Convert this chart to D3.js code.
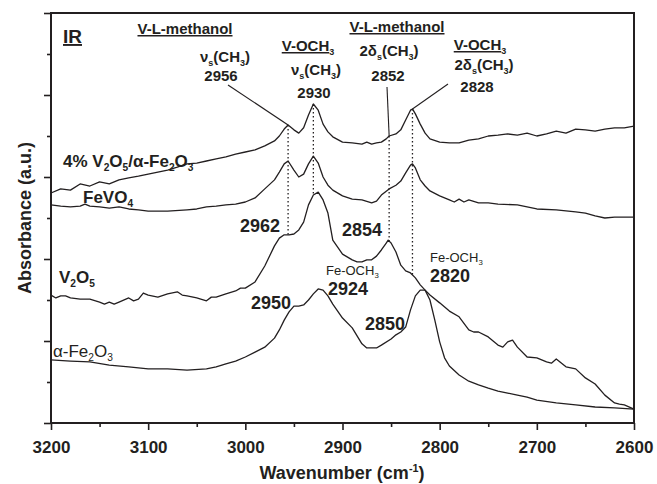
<!DOCTYPE html>
<html>
<head>
<meta charset="utf-8">
<script src="https://cdn.jsdelivr.net/npm/d3@7/dist/d3.min.js"></script>
<style>
body { margin: 0; background: #fff; }
svg text { font-family: "Liberation Sans", Arial, Helvetica, sans-serif; fill: #231f20; }
</style>
</head>
<body>
<svg id="chart" width="657" height="484"></svg>
<script>
// spectra: wavenumber (cm-1) / absorbance (a.u.)
const mixedWn  = [3200,3190,3180,3170,3160,3150,3140,3130,3120,3110,3100,3090,3080,3070,3060,3050,3040,3030,3020,3010,3000,2990,2980,2970,2965,2960,2956,2950,2945,2940,2935,2930,2925,2920,2915,2910,2900,2890,2880,2875,2870,2865,2860,2855,2852,2845,2840,2835,2830,2828,2825,2820,2815,2810,2800,2790,2780,2770,2760,2750,2740,2730,2720,2710,2700,2690,2680,2670,2660,2650,2640,2630,2620,2610,2600];
const mixedAbs = [5.61,5.71,5.68,5.83,5.78,5.88,5.83,5.93,5.98,6.02,6.07,6.12,6.17,6.24,6.32,6.34,6.39,6.44,6.49,6.56,6.61,6.66,6.76,6.88,7.00,7.17,7.27,7.15,7.07,7.20,7.51,7.78,7.63,7.29,7.10,6.98,6.85,6.83,6.80,6.85,6.80,6.83,6.85,6.93,7.00,7.05,7.15,7.39,7.63,7.66,7.54,7.29,7.07,6.93,6.85,6.83,6.83,6.90,6.93,7.00,7.02,7.05,7.02,7.07,7.00,7.05,7.12,7.07,7.17,7.15,7.12,7.17,7.20,7.20,7.24];

const fevo4Wn  = [3200,3190,3180,3170,3165,3160,3150,3140,3130,3120,3110,3100,3080,3060,3050,3040,3030,3020,3010,3000,2990,2980,2970,2965,2960,2956,2950,2945,2940,2935,2930,2925,2920,2915,2910,2900,2890,2880,2870,2865,2860,2852,2845,2840,2835,2830,2828,2825,2820,2815,2810,2800,2790,2785,2780,2775,2770,2760,2750,2740,2720,2700,2680,2660,2650,2640,2630,2620,2600];
const fevo4Abs = [5.32,5.29,5.27,5.29,5.34,5.29,5.27,5.24,5.27,5.22,5.20,5.17,5.17,5.20,5.22,5.27,5.29,5.32,5.34,5.39,5.49,5.71,5.93,6.12,6.32,6.39,6.17,6.00,6.07,6.32,6.51,6.34,6.00,5.80,5.68,5.54,5.46,5.44,5.37,5.41,5.56,5.71,5.80,5.90,6.10,6.29,6.32,6.22,5.93,5.78,5.66,5.54,5.44,5.39,5.46,5.39,5.44,5.37,5.37,5.34,5.32,5.22,5.20,5.15,5.12,5.05,5.00,5.02,5.02];

const v2o5Wn  = [3200,3195,3190,3185,3180,3170,3160,3150,3145,3140,3135,3130,3120,3115,3110,3105,3100,3090,3080,3070,3065,3060,3050,3040,3035,3030,3020,3010,3005,3000,2990,2980,2970,2965,2960,2955,2950,2945,2940,2935,2930,2925,2920,2915,2910,2905,2900,2890,2885,2880,2875,2870,2865,2860,2855,2853,2850,2845,2840,2835,2830,2825,2820,2815,2810,2800,2790,2780,2770,2765,2760,2750,2740,2735,2730,2725,2720,2710,2700,2690,2685,2680,2670,2660,2650,2640,2630,2620,2615,2610,2600];
const v2o5Abs = [3.12,3.05,3.10,3.10,3.05,3.02,3.02,2.95,2.90,2.95,2.90,2.95,3.05,2.98,3.02,3.17,3.12,3.07,3.15,3.20,3.12,3.10,3.05,2.98,3.07,3.07,3.15,3.22,3.29,3.29,3.44,3.83,4.32,4.51,4.59,4.59,4.61,4.71,4.90,5.32,5.56,5.63,5.44,5.12,4.46,4.29,4.12,3.98,3.93,3.93,3.98,3.98,4.07,4.22,4.39,4.46,4.39,4.17,3.85,3.71,3.66,3.54,3.37,3.24,3.12,2.93,2.73,2.59,2.27,2.22,2.22,2.10,1.90,1.85,1.98,2.02,1.85,1.61,1.59,1.49,1.46,1.56,1.37,1.32,1.10,0.95,0.68,0.49,0.46,0.44,0.34];

const fe2o3Wn  = [3200,3180,3160,3140,3120,3100,3080,3060,3040,3030,3020,3010,3000,2990,2980,2970,2965,2960,2955,2950,2945,2940,2935,2930,2925,2920,2915,2910,2900,2890,2880,2875,2870,2865,2860,2850,2845,2840,2835,2830,2825,2820,2815,2810,2805,2800,2795,2790,2780,2770,2760,2750,2740,2730,2720,2710,2700,2680,2660,2640,2620,2600];
const fe2o3Abs = [1.54,1.51,1.49,1.41,1.37,1.32,1.32,1.29,1.32,1.37,1.44,1.51,1.61,1.73,1.85,2.07,2.27,2.51,2.71,2.85,2.85,2.88,3.00,3.15,3.27,3.24,3.10,2.90,2.56,2.32,1.93,1.83,1.83,1.83,1.90,2.05,2.15,2.22,2.34,2.76,3.10,3.24,3.24,3.00,2.51,1.98,1.59,1.39,1.17,1.02,0.93,0.85,0.78,0.73,0.68,0.63,0.56,0.49,0.44,0.39,0.37,0.34];

// assigned bands (dotted markers)
const bandWn = [2956, 2930, 2852, 2828];

const xMajorTicks = [3200, 3100, 3000, 2900, 2800, 2700, 2600];
const xMinorTicks = [3150, 3050, 2950, 2850, 2750, 2650];
const yMajorTicks = [0, 2, 4, 6, 8, 10];
const yMinorTicks = [1, 3, 5, 7, 9];

const width = 657, height = 484;
const margin = {top: 13, right: 23, bottom: 61, left: 51};

const svg = d3.select("#chart");

const x = d3.scaleLinear().domain([3200, 2600]).range([margin.left, width - margin.right]);
const y = d3.scaleLinear().domain([0, 10]).range([height - margin.bottom, margin.top]);

const ink = "#231f20";

function absAt(wns, abs, w) {
	for (let i = 0; i < wns.length - 1; i++) {
		if (w <= wns[i] && w >= wns[i + 1]) {
			const t = (wns[i] - w) / (wns[i] - wns[i + 1]);
			return abs[i] + t * (abs[i + 1] - abs[i]);
		}
	}
	return abs[abs.length - 1];
}

// axes
const gx = svg.append("g").attr("transform", `translate(0,${y(0)})`);
gx.call(d3.axisBottom(x).tickValues(xMajorTicks).tickSize(7).tickPadding(11).tickFormat(d3.format("d")));
gx.append("g").call(d3.axisBottom(x).tickValues(xMinorTicks).tickSize(4).tickFormat(""));

const gy = svg.append("g").attr("transform", `translate(${x(3200)},0)`);
gy.call(d3.axisLeft(y).tickValues(yMajorTicks).tickSize(7).tickFormat(""));
gy.append("g").call(d3.axisLeft(y).tickValues(yMinorTicks).tickSize(4).tickFormat(""));

svg.selectAll(".domain").remove();
svg.selectAll(".tick line").attr("stroke", ink).attr("stroke-width", 1.6);
gx.selectAll(".tick text")
	.attr("fill", ink)
	.style("font-size", "17px")
	.style("font-weight", "bold");

// frame
svg.append("rect")
	.attr("x", x(3200)).attr("y", y(10))
	.attr("width", x(2600) - x(3200)).attr("height", y(0) - y(10))
	.attr("fill", "none").attr("stroke", ink).attr("stroke-width", 2);

// spectra
const line = d3.line().x(d => x(d[0])).y(d => y(d[1]));
const series = [
	[mixedWn, mixedAbs],
	[fevo4Wn, fevo4Abs],
	[v2o5Wn, v2o5Abs],
	[fe2o3Wn, fe2o3Abs]
];
svg.append("g").selectAll("path")
	.data(series)
	.join("path")
	.attr("d", s => line(d3.zip(s[0], s[1])))
	.attr("fill", "none")
	.attr("stroke", ink)
	.attr("stroke-width", 1.3)
	.attr("stroke-linejoin", "round");

// dotted band markers from the top spectrum down to V2O5
svg.append("g").selectAll("line")
	.data(bandWn)
	.join("line")
	.attr("x1", d => x(d)).attr("x2", d => x(d))
	.attr("y1", d => y(absAt(mixedWn, mixedAbs, d)))
	.attr("y2", d => y(absAt(v2o5Wn, v2o5Abs, d)))
	.attr("stroke", ink)
	.attr("stroke-width", 1.3)
	.attr("stroke-dasharray", "1.5,2.5");

// leader lines from labels to the bands
const leaders = [
	{from: [228, 85], band: 2956},
	{from: [387, 87], band: 2852},
	{from: [448, 84], band: 2828}
];
svg.append("g").selectAll("line")
	.data(leaders)
	.join("line")
	.attr("x1", d => d.from[0]).attr("y1", d => d.from[1])
	.attr("x2", d => x(d.band)).attr("y2", d => y(absAt(mixedWn, mixedAbs, d.band)))
	.attr("stroke", ink)
	.attr("stroke-width", 1.1);

// text helper: parts are [string, "sub"|"sup"] or plain strings
function label(px, py, parts, opts) {
	const t = svg.append("text")
		.attr("x", px).attr("y", py)
		.attr("text-anchor", opts.anchor || "start")
		.style("font-size", opts.size + "px")
		.style("font-weight", opts.weight || "bold");
	let shift = 0;
	parts.forEach(p => {
		const [str, kind] = Array.isArray(p) ? p : [p, null];
		let target = 0;
		if (kind === "sub") target = opts.size * 0.25;
		if (kind === "sup") target = -opts.size * 0.4;
		const ts = t.append("tspan").text(str).attr("dy", target - shift);
		shift = target;
		if (kind === "sub" || kind === "sup") ts.style("font-size", (opts.size * 0.6) + "px");
		if (opts.underline && kind !== "sub") ts.style("text-decoration", "underline");
	});
	return t;
}

// band assignments
label(63, 43, ["IR"], {size: 19, underline: true});
label(185, 34, ["V-L-methanol"], {size: 15, anchor: "middle", underline: true});
label(225, 62, ["ν", ["s", "sub"], "(CH", ["3", "sub"], ")"], {size: 15, anchor: "middle"});
label(221, 81, ["2956"], {size: 15, anchor: "middle"});
label(308, 51, ["V-OCH", ["3", "sub"]], {size: 15, anchor: "middle", underline: true});
label(316, 75, ["ν", ["s", "sub"], "(CH", ["3", "sub"], ")"], {size: 15, anchor: "middle"});
label(314, 98, ["2930"], {size: 15, anchor: "middle"});
label(397, 32, ["V-L-methanol"], {size: 15, anchor: "middle", underline: true});
label(389, 56, ["2δ", ["s", "sub"], "(CH", ["3", "sub"], ")"], {size: 15, anchor: "middle"});
label(388, 81, ["2852"], {size: 15, anchor: "middle"});
label(480, 50, ["V-OCH", ["3", "sub"]], {size: 15, anchor: "middle", underline: true});
label(484, 70, ["2δ", ["s", "sub"], "(CH", ["3", "sub"], ")"], {size: 15, anchor: "middle"});
label(477, 92, ["2828"], {size: 15, anchor: "middle"});

// peak positions
label(240, 232, ["2962"], {size: 18});
label(342, 236, ["2854"], {size: 18});
label(251, 309, ["2950"], {size: 18});
label(365, 330, ["2850"], {size: 18});
label(328, 295, ["2924"], {size: 18});
label(430, 282, ["2820"], {size: 18});
label(326, 275, ["Fe-OCH", ["3", "sub"]], {size: 13, weight: "normal"});
label(430, 262, ["Fe-OCH", ["3", "sub"]], {size: 13, weight: "normal"});

// sample names
label(63, 167, ["4% V", ["2", "sub"], "O", ["5", "sub"], "/α-Fe", ["2", "sub"], "O", ["3", "sub"]], {size: 17});
label(83, 203, ["FeVO", ["4", "sub"]], {size: 17});
label(59, 283, ["V", ["2", "sub"], "O", ["5", "sub"]], {size: 17});
label(53, 357, ["α-Fe", ["2", "sub"], "O", ["3", "sub"]], {size: 17, weight: "normal"});

// axis titles
label(342, 479, ["Wavenumber (cm", ["-1", "sup"], ")"], {size: 18, anchor: "middle"});
label(0, 0, ["Absorbance (a.u.)"], {size: 18, anchor: "middle"})
	.attr("transform", `translate(31,${(y(0) + y(10)) / 2}) rotate(-90)`);
</script>
</body>
</html>
